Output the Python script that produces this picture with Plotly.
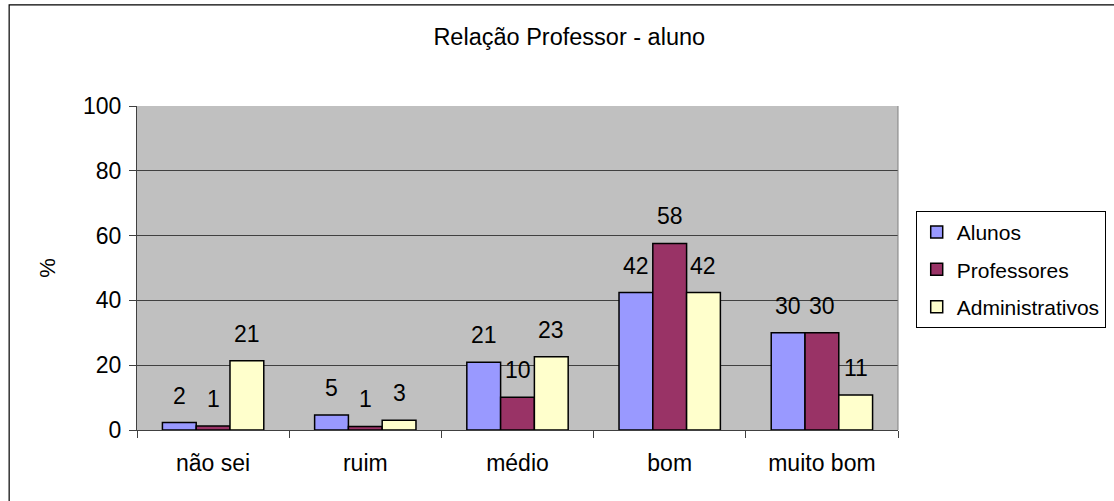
import plotly.graph_objects as go

# data
categorias = ['não sei', 'ruim', 'médio', 'bom', 'muito bom']
alunos = [2.3, 4.6, 20.9, 42.4, 30.0]
professores = [1.2, 1.1, 10.1, 57.6, 30.0]
administrativos = [21.4, 3.0, 22.6, 42.4, 10.8]

series = [
    ('Alunos', alunos, '#9999FF'),
    ('Professores', professores, '#993366'),
    ('Administrativos', administrativos, '#FFFFCC'),
]

FONT = 'Liberation Sans, Arial, sans-serif'
BARGAP = 0.334

fig = go.Figure()
for nome, valores, cor in series:
    fig.add_trace(go.Bar(
        x=categorias, y=valores, name=nome, legendgroup=nome,
        marker=dict(color=cor, line=dict(color='black', width=1.5)),
    ))

# value labels above bars (Excel style, lifted off the bar top)
largura = (1 - BARGAP) / len(series)
anots = []
for k, (nome, valores, cor) in enumerate(series):
    desloc = (k - (len(series) - 1) / 2) * largura
    for i, v in enumerate(valores):
        anots.append(dict(
            x=i + desloc, y=v, xref='x', yref='y',
            text=f'{round(v):d}', showarrow=False,
            yshift=27, font=dict(size=23, color='black', family=FONT),
        ))

fig.update_layout(
    width=1114, height=501,
    margin=dict(l=137, r=216, t=106, b=71),
    paper_bgcolor='white', plot_bgcolor='#C0C0C0',
    font=dict(family=FONT, size=23, color='black'),
    title=dict(text='Relação Professor - aluno', x=0.511, xanchor='center',
               y=0.926, yanchor='middle', font=dict(size=23.5)),
    barmode='group', bargap=BARGAP, bargroupgap=0,
    showlegend=True,
    legend=dict(xref='container', yref='container',
                x=0.822, xanchor='left', y=0.579, yanchor='top',
                bordercolor='black', borderwidth=1, bgcolor='white',
                font=dict(size=21), tracegroupgap=7, itemwidth=30),
    annotations=anots,
)

fig.update_xaxes(
    type='category', tickson='boundaries', ticks='outside', ticklen=7,
    tickcolor='#404040', showline=True, linecolor='#404040', linewidth=1,
    showgrid=False, tickfont=dict(size=23), ticklabelstandoff=12,
)
fig.update_yaxes(
    range=[0, 100], dtick=20, ticks='outside', ticklen=7, tickcolor='#404040',
    showline=True, linecolor='#404040', linewidth=1,
    gridcolor='#404040', gridwidth=1, zeroline=False,
    tickfont=dict(size=23), ticklabelstandoff=3,
    title=dict(text='%', font=dict(size=22), standoff=21),
)

# plot area right border and outer chart frame
fig.add_shape(type='line', xref='paper', yref='paper', x0=1, x1=1, y0=0, y1=1,
              line=dict(color='#808080', width=1))
fig.add_shape(type='rect', xref='paper', yref='paper',
              x0=-0.168, x1=1.4, y0=-0.4, y1=1.312,
              line=dict(color='black', width=1.2), layer='below')

fig.write_html('out.html', config={'displayModeBar': False},
               post_script="document.body.style.margin='0';")
